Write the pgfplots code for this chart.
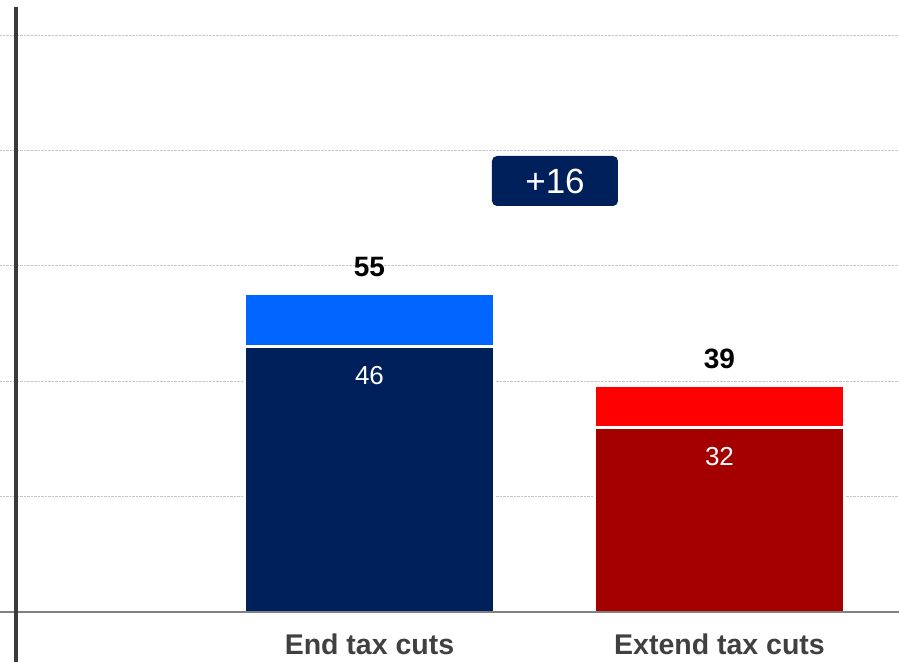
\documentclass[border=0pt]{standalone}
\usepackage{fontspec}
\setmainfont{Liberation Sans}
\usepackage{pgfplots}
\pgfplotsset{compat=1.18}
\definecolor{navy}{RGB}{0,32,91}
\definecolor{brightblue}{RGB}{0,102,255}
\definecolor{darkred}{RGB}{165,0,0}
\definecolor{brightred}{RGB}{255,0,0}
\definecolor{labelgray}{RGB}{64,64,64}
\definecolor{axisdark}{RGB}{58,58,58}
\definecolor{basegray}{RGB}{128,128,128}
\begin{document}
\begin{tikzpicture}
\begin{axis}[
  at={(0,0)}, anchor=south west,
  scale only axis,
  width=899pt, height=662pt,
  xmin=-0.0557, xmax=2.5129,
  ymin=-8.67, ymax=106.07,
  axis line style={draw=none},
  tick style={draw=none},
  xtick=\empty,
  ytick={20,40,60,80,100},
  yticklabels={},
  ymajorgrids,
  grid style={gray!45, densely dotted, line width=0.8pt},
  ybar, bar shift=0pt, bar width=0.7057,
  clip=false,
]
\addplot[fill=brightblue, draw=none] coordinates {(1,55)};
\addplot[fill=brightred, draw=none] coordinates {(2,39)};
\addplot[fill=navy, draw=white, line width=2.5pt, bar width=0.7128] coordinates {(1,46)};
\addplot[fill=darkred, draw=white, line width=2.5pt, bar width=0.7128] coordinates {(2,32)};

\draw[basegray, line width=2.2pt] (axis cs:-0.0557,0) -- (axis cs:2.5129,0);
\draw[axisdark, line width=4.5pt] (axis cs:-0.0100,104.85) -- (axis cs:-0.0100,-8.67);

\node[font=\fontsize{28}{28}\selectfont\bfseries] at (axis cs:1,59.8) {55};
\node[font=\fontsize{28}{28}\selectfont\bfseries] at (axis cs:2,43.8) {39};
\node[font=\fontsize{26}{26}\selectfont, text=white] at (axis cs:1,40.9) {46};
\node[font=\fontsize{26}{26}\selectfont, text=white] at (axis cs:2,26.9) {32};
\node[font=\fontsize{28.5}{28.5}\selectfont\bfseries, text=labelgray] at (axis cs:1,-5.6) {End tax cuts};
\node[font=\fontsize{28.5}{28.5}\selectfont\bfseries, text=labelgray] at (axis cs:2,-5.6) {Extend tax cuts};
\node[fill=navy, rounded corners=5pt, minimum width=126pt, minimum height=50pt, inner sep=0pt, text=white, font=\fontsize{35}{35}\selectfont] at (axis cs:1.530,74.7) {+16};
\end{axis}
\pgfresetboundingbox
\path[use as bounding box] (0,0) rectangle (899pt,662pt);
\end{tikzpicture}
\end{document}
